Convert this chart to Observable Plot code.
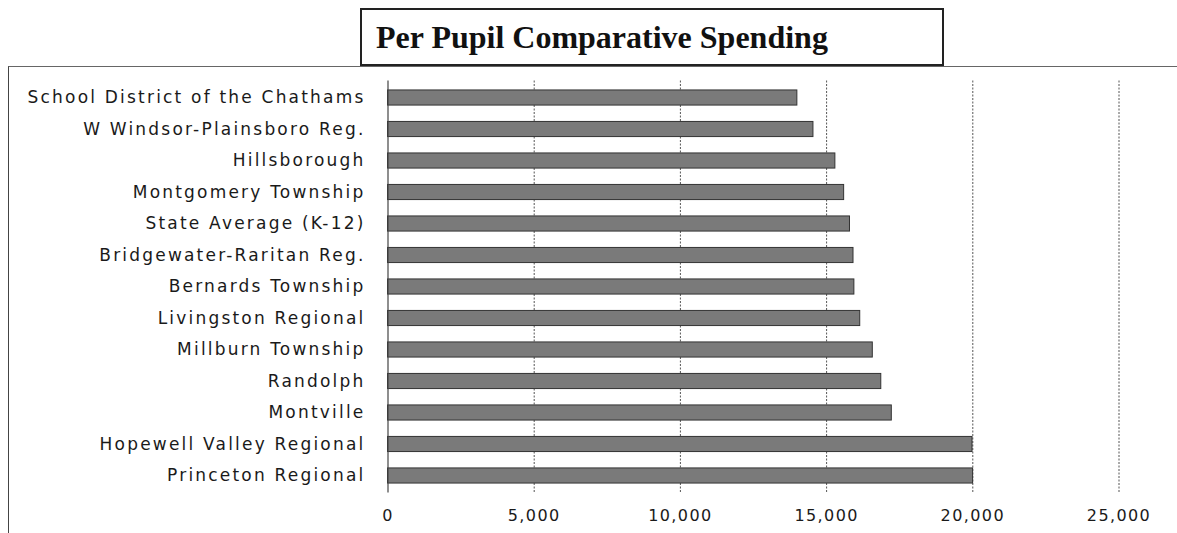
<!DOCTYPE html>
<html>
<head>
<meta charset="utf-8">
<script src="https://cdn.jsdelivr.net/npm/d3@7"></script>
<script src="https://cdn.jsdelivr.net/npm/@observablehq/plot@0.6"></script>
<style>
  html, body { margin: 0; padding: 0; background: #fff; }
  #wrap { position: relative; width: 1177px; height: 533px; overflow: hidden; }
  #frame { position: absolute; left: 8px; top: 66px; width: 1180px; height: 480px;
           border-left: 1.5px solid #444; border-top: 1px solid #666; }
  #title { position: absolute; left: 360px; top: 8px; width: 584px; height: 58px;
           border: 2px solid #222; background: #fff; box-sizing: border-box; overflow: visible;
           font-family: "Liberation Serif", serif; font-weight: bold; font-size: 32px;
           line-height: 55px; padding-left: 14px; color: #111; z-index: 2; white-space: nowrap; }
  #chart { position: absolute; left: 0; top: 0; }
</style>
</head>
<body>
<div id="wrap">
  <div id="frame"></div>
  <div id="chart"></div>
  <div id="title">Per Pupil Comparative Spending</div>
</div>
<script>
const districts = [
  "School District of the Chathams",
  "W Windsor-Plainsboro Reg.",
  "Hillsborough",
  "Montgomery Township",
  "State Average (K-12)",
  "Bridgewater-Raritan Reg.",
  "Bernards Township",
  "Livingston Regional",
  "Millburn Township",
  "Randolph",
  "Montville",
  "Hopewell Valley Regional",
  "Princeton Regional"
];
const spending = [14000, 14550, 15300, 15600, 15800, 15920, 15950, 16150, 16580, 16870, 17230, 19990, 20010];
const xTicks = [0, 5000, 10000, 15000, 20000, 25000];

const data = districts.map((d, i) => ({district: d, value: spending[i]}));

const chart = Plot.plot({
  width: 1177,
  height: 533,
  marginLeft: 387.5,
  marginRight: 58.5,
  marginTop: 80.5,
  marginBottom: 40.5,
  style: {fontFamily: "DejaVu Sans", fontSize: "17px", color: "#1a1a1a", background: "transparent"},
  x: {domain: [0, 25000], ticks: xTicks, tickFormat: d3.format(","), label: null},
  y: {domain: districts, label: null, paddingInner: 0.52, paddingOuter: 0.3, round: false},
  marks: [
    Plot.ruleX(xTicks.slice(1), {stroke: "#555", strokeWidth: 1, strokeDasharray: "2,1.5"}),
    Plot.barX(data, {y: "district", x: "value", fill: "#7a7a7a", stroke: "#333", strokeWidth: 1}),
    Plot.ruleX([0], {stroke: "#444", strokeWidth: 1.2}),
    Plot.ruleY([0], {frameAnchor: "bottom", stroke: "#666", strokeDasharray: "2,1.5"}),
    Plot.axisX({ticks: xTicks, tickFormat: d3.format(","), tickSize: 0, tickPadding: 17, label: null, fontSize: 16, className: "xax"}),
    Plot.axisY({tickSize: 0, tickPadding: 22.5, label: null, fontSize: 17, className: "yax"})
  ]
});
chart.querySelectorAll(".yax text").forEach(t => t.style.letterSpacing = "2.2px");
chart.querySelectorAll(".xax text").forEach(t => t.style.letterSpacing = "1.4px");
document.getElementById("chart").appendChild(chart);
</script>
</body>
</html>
